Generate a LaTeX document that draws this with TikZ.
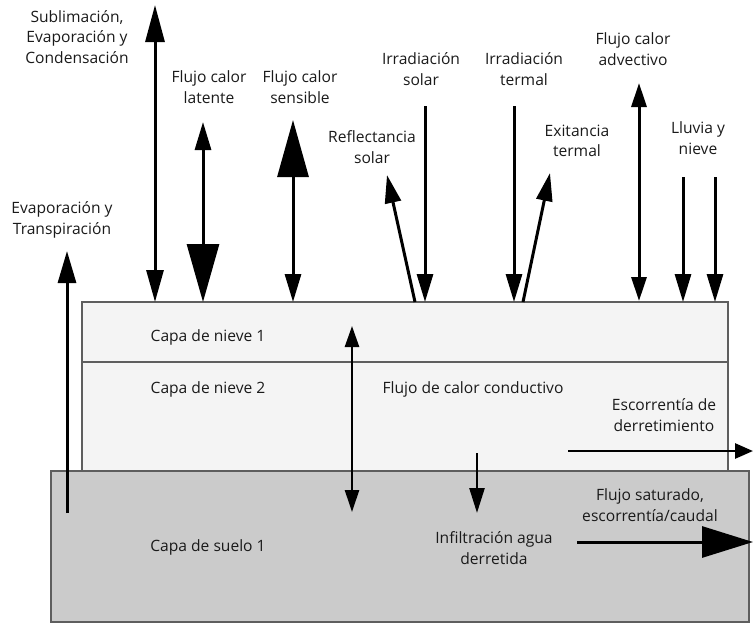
\documentclass[tikz,border=0pt]{standalone}
\usepackage{fontspec}
\setmainfont{Open Sans}
\usetikzlibrary{arrows.meta}
\definecolor{snow}{HTML}{F4F4F4}
\definecolor{soil}{HTML}{CBCBCB}
\definecolor{edge}{HTML}{5E5E5E}
\definecolor{txt}{HTML}{1A1A1A}
\tikzset{
  lbl/.style={align=center, inner sep=0pt, text=txt, font=\fontsize{15.6}{20.5}\selectfont},
  flow/.style={line width=3pt, line cap=butt},
  tipS/.tip={Triangle[length=28pt,width=16pt]},
  tipM/.tip={Triangle[length=32pt,width=18pt]},
  tipL/.tip={Triangle[length=57pt,width=31pt]},
  layer/.style={draw=edge, line width=1.2pt}
}
\begin{document}
\begin{tikzpicture}[x=1pt,y=-1pt]
\useasboundingbox (0,0) rectangle (753,624);
% layers
\draw[layer, fill=snow] (82,302) rectangle (728,471);
\draw[layer] (82,362) -- (728,362);
\draw[layer, fill=soil] (51,471) rectangle (749,622);

% labels
\node[lbl] (sub) at (77,37) {Sublimación,\\Evaporación y\\Condensación};
\node[lbl] (lat) at (209,87) {Flujo calor\\latente};
\node[lbl] (sen) at (300,87) {Flujo calor\\sensible};
\node[lbl] (ref) at (372,147) {Reflectancia\\solar};
\node[lbl] (irs) at (421,69) {Irradiación\\solar};
\node[lbl] (irt) at (524,69) {Irradiación\\termal};
\node[lbl] (exi) at (577,141) {Exitancia\\termal};
\node[lbl] (adv) at (633,49) {Flujo calor\\advectivo};
\node[lbl] (llu) at (698,138) {Lluvia y\\nieve};
\node[lbl] (evt) at (62,220) {Evaporación y\\Transpiración};
\node[lbl] (cn1) at (208,337) {Capa de nieve 1};
\node[lbl] (cn2) at (208,389) {Capa de nieve 2};
\node[lbl] (cs1) at (208,547) {Capa de suelo 1};
\node[lbl] (con) at (473,389) {Flujo de calor conductivo};
\node[lbl] (esc) at (664,415) {Escorrentía de\\derretimiento};
\node[lbl] (sat) at (650,505) {Flujo saturado,\\escorrentía/caudal};
\node[lbl] (inf) at (494,548) {Infiltración agua\\derretida};

% coordinates
\coordinate (evA) at (67,513);   \coordinate (evB) at (67,251);
\coordinate (suA) at (155,302);  \coordinate (suB) at (155,5);
\coordinate (laA) at (203,302);  \coordinate (laB) at (203,122);
\coordinate (seA) at (293,302);  \coordinate (seB) at (293,120);
\coordinate (reA) at (415,302);  \coordinate (reB) at (387,175);
\coordinate (isA) at (425,106);  \coordinate (isB) at (425,302);
\coordinate (itA) at (514,106);  \coordinate (itB) at (514,302);
\coordinate (exA) at (523,302);  \coordinate (exB) at (550,173);
\coordinate (adA) at (639,301);  \coordinate (adB) at (639,83);
\coordinate (l1A) at (683,177);  \coordinate (l1B) at (683,302);
\coordinate (l2A) at (715,177);  \coordinate (l2B) at (715,302);
\coordinate (coA) at (352,512);  \coordinate (coB) at (352,326);
\coordinate (inA) at (477,453);  \coordinate (inB) at (477,513);
\coordinate (erA) at (568,451);  \coordinate (erB) at (753,451);
\coordinate (fsA) at (577,542);  \coordinate (fsB) at (753,542);

% arrows
\draw[flow, -tipM] (evA) -- (evB);
\draw[flow, {Triangle[length=32pt,width=17pt]}-{Triangle[length=37pt,width=19pt]}] (suA) -- (suB);
\draw[flow, {Triangle[length=58pt,width=32pt]}-tipS] (laA) -- (laB);
\draw[flow, tipS-tipL] (seA) -- (seB);
\draw[flow, -tipS] (reA) -- (reB);
\draw[flow, -tipS] (isA) -- (isB);
\draw[flow, -tipS] (itA) -- (itB);
\draw[flow, -tipS] (exA) -- (exB);
\draw[flow, {Triangle[length=24pt,width=15pt]}-{Triangle[length=24pt,width=15pt]}] (adA) -- (adB);
\draw[flow, -tipS] (l1A) -- (l1B);
\draw[flow, -tipS] (l2A) -- (l2B);
\draw[line width=2.6pt, {Triangle[length=22pt,width=14pt]}-{Triangle[length=21pt,width=14pt]}] (coA) -- (coB);
\draw[line width=2.6pt, -{Triangle[length=25pt,width=15pt]}] (inA) -- (inB);
\draw[line width=2.8pt, -{Triangle[length=18pt,width=15pt]}] (erA) -- (erB);
\draw[flow, -{Triangle[length=51pt,width=31pt]}] (fsA) -- (fsB);
\end{tikzpicture}
\end{document}
